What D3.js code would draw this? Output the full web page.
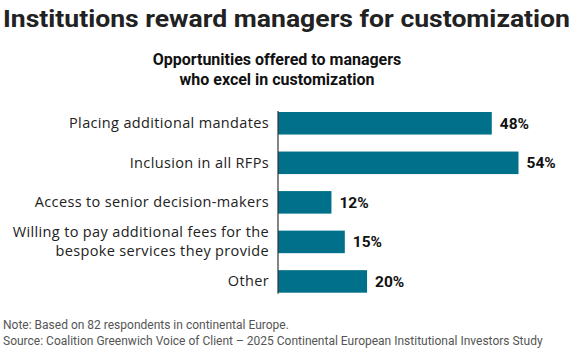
<!DOCTYPE html>
<html>
<head>
<meta charset="utf-8">
<script src="https://cdn.jsdelivr.net/npm/d3@7"></script>
<style>
  body { margin: 0; background: #fff; }
  text { font-family: Roboto, "Noto Sans", sans-serif; }
  .lab { font-family: "Open Sans", Roboto, sans-serif; letter-spacing: 0.35px; }
</style>
</head>
<body>
<div id="chart"></div>
<script>
// data
var categories = [
    ["Placing additional mandates"],
    ["Inclusion in all RFPs"],
    ["Access to senior decision-makers"],
    ["Willing to pay additional fees for the", "bespoke services they provide"],
    ["Other"]
];
var values = [48, 54, 12, 15, 20];
var title = "Institutions reward managers for customization";
var subtitle = ["Opportunities offered to managers", "who excel in customization"];
var notes = [
    "Note: Based on 82 respondents in continental Europe.",
    "Source: Coalition Greenwich Voice of Client \u2013 2025 Continental European Institutional Investors Study"
];

var W = 580, H = 358;
var barColor = "#00708b";

var svg = d3.select("#chart")
    .append("svg")
    .attr("width", W)
    .attr("height", H);

// title
svg.append("text")
    .attr("x", 3)
    .attr("y", 27)
    .attr("fill", "#222")
    .style("font-size", "24px")
    .style("font-weight", 700)
    .attr("textLength", 567)
    .attr("lengthAdjust", "spacingAndGlyphs")
    .text(title);

// subtitle
svg.selectAll(".sub")
    .data(subtitle)
    .enter()
    .append("text")
    .attr("class", "sub")
    .attr("x", 277)
    .attr("y", function(d, i) { return 65 + i * 20; })
    .attr("text-anchor", "middle")
    .attr("fill", "#111")
    .style("font-size", "16px")
    .style("font-weight", 700)
    .text(function(d) { return d; });

// scales
var idx = d3.range(values.length);
var x = d3.scaleLinear()
    .domain([0, 54])
    .range([278, 518.5]);
var y = d3.scaleBand()
    .domain(idx)
    .range([112, 292.7])
    .paddingInner(0.43)
    .paddingOuter(0);

// bars
svg.append("g")
    .selectAll("rect")
    .data(idx)
    .enter()
    .append("rect")
    .attr("x", x(0))
    .attr("y", function(i) { return y(i); })
    .attr("width", function(i) { return x(values[i]) - x(0); })
    .attr("height", y.bandwidth())
    .attr("fill", barColor);

// axis line
svg.append("line")
    .attr("x1", x(0)).attr("x2", x(0))
    .attr("y1", y(0) - 1)
    .attr("y2", y(idx.length - 1) + y.bandwidth() + 1)
    .attr("stroke", "#333")
    .attr("stroke-width", 1.2);

// category labels, one text per line
svg.append("g")
    .selectAll("g")
    .data(idx)
    .enter()
    .append("g")
    .each(function(i) {
        var lines = categories[i];
        var cy = y(i) + y.bandwidth() / 2;
        d3.select(this).selectAll("text")
            .data(lines)
            .enter()
            .append("text")
            .attr("class", "lab")
            .attr("text-anchor", "end")
            .attr("fill", "#222")
            .style("font-size", "14.5px")
            .attr("x", x(0) - 9)
            .attr("y", function(l, k) { return cy + 5 + (k - (lines.length - 1) / 2) * 19; })
            .text(function(l) { return l; });
    });

// value labels
svg.append("g")
    .selectAll("text")
    .data(idx)
    .enter()
    .append("text")
    .attr("x", function(i) { return x(values[i]) + 8; })
    .attr("y", function(i) { return y(i) + y.bandwidth() / 2 + 5.5; })
    .attr("fill", "#111")
    .style("font-size", "15.5px")
    .style("font-weight", 700)
    .text(function(i) { return values[i] + "%"; });

// notes
svg.selectAll(".note")
    .data(notes)
    .enter()
    .append("text")
    .attr("class", "note")
    .attr("x", 3)
    .attr("y", function(d, i) { return 329 + i * 16; })
    .attr("fill", "#555")
    .style("font-size", "12px")
    .text(function(d) { return d; });
</script>
</body>
</html>
